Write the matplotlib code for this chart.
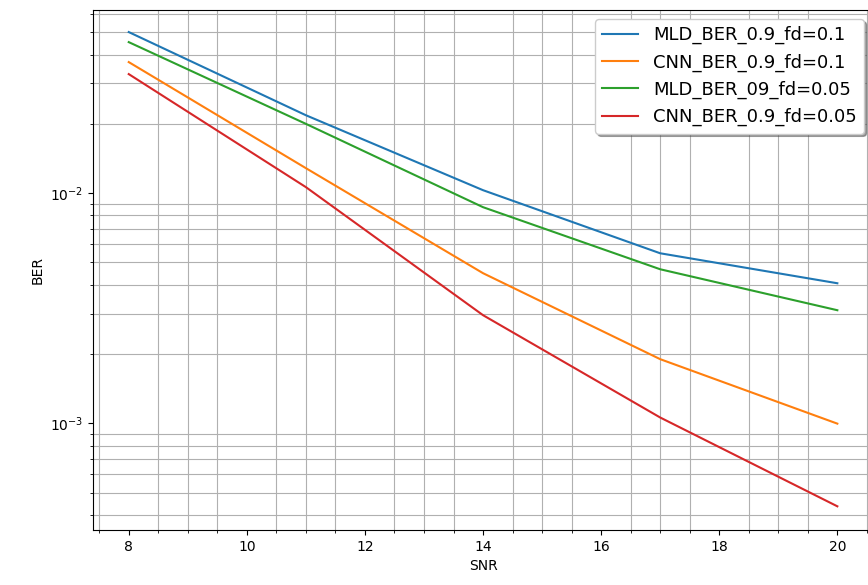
import matplotlib
matplotlib.use("Agg")
import matplotlib.pyplot as plt

# SNR points and bit error rates for the four receivers
snr = [8, 11, 14, 17, 20]
mld_ber_fd01 = [0.0501, 0.0218, 0.0103, 0.00548, 0.00406]
cnn_ber_fd01 = [0.0371, 0.01284, 0.00449, 0.00190, 0.000997]
mld_ber_fd005 = [0.0453, 0.0200, 0.00869, 0.00467, 0.00310]
cnn_ber_fd005 = [0.0329, 0.01062, 0.00295, 0.00106, 0.000436]

labels = ["MLD_BER_0.9_fd=0.1", "CNN_BER_0.9_fd=0.1",
          "MLD_BER_09_fd=0.05", "CNN_BER_0.9_fd=0.05"]

fig = plt.figure(figsize=(8.68, 5.85), dpi=100)
ax = fig.add_axes([0.1075, 0.094, 0.898, 0.889])

ax.plot(snr, mld_ber_fd01, label=labels[0])
ax.plot(snr, cnn_ber_fd01, label=labels[1])
ax.plot(snr, mld_ber_fd005, label=labels[2])
ax.plot(snr, cnn_ber_fd005, label=labels[3])

ax.set_yscale("log")
ax.set_xlim(7.4, 20.6)
ax.set_ylim(3.44e-4, 0.0625)
ax.minorticks_on()
ax.grid(True, which="minor")

ax.set_xlabel("SNR")
ax.set_ylabel("BER")
ax.legend(loc="upper right", shadow=True, fontsize=13)

fig.savefig("out.png", dpi=100)
